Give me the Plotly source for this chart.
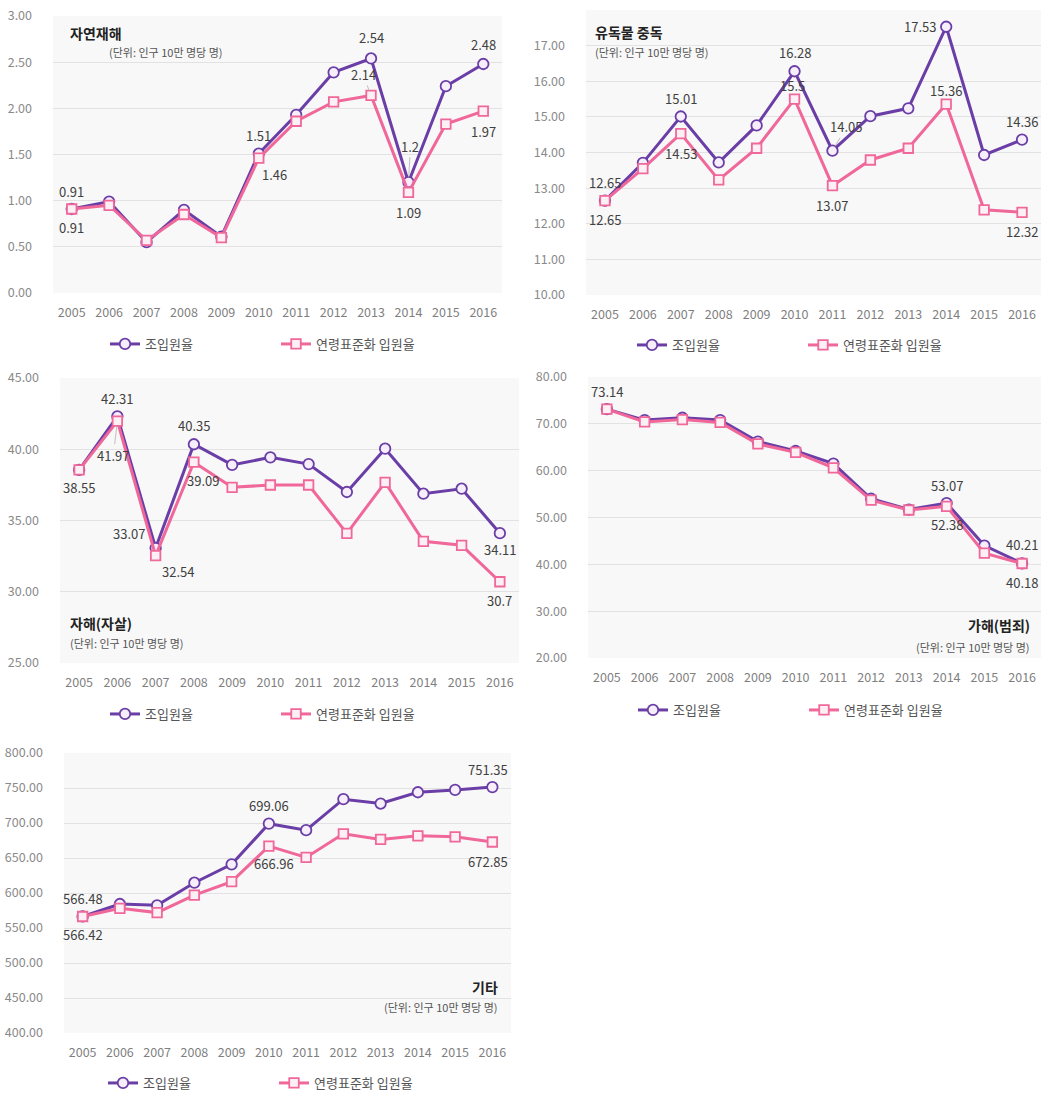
import plotly.graph_objects as go

W, H = 1044, 1095

years = list(range(2005, 2017))

# 자연재해
nat_crude = [0.91, 0.99, 0.55, 0.90, 0.61, 1.51, 1.93, 2.39, 2.54, 1.2, 2.24, 2.48]
nat_std = [0.91, 0.95, 0.57, 0.85, 0.60, 1.46, 1.86, 2.07, 2.14, 1.09, 1.83, 1.97]
# 유독물 중독
tox_crude = [12.65, 13.71, 15.01, 13.72, 14.76, 16.28, 14.05, 15.02, 15.24, 17.53, 13.93, 14.36]
tox_std = [12.65, 13.55, 14.53, 13.23, 14.12, 15.5, 13.07, 13.79, 14.12, 15.36, 12.39, 12.32]
# 자해(자살)
sui_crude = [38.55, 42.31, 33.07, 40.35, 38.9, 39.43, 38.96, 37.0, 40.04, 36.88, 37.23, 34.11]
sui_std = [38.55, 41.97, 32.54, 39.09, 37.33, 37.49, 37.49, 34.10, 37.68, 33.54, 33.26, 30.7]
# 가해(범죄)
cri_crude = [73.14, 70.8, 71.3, 70.8, 66.2, 64.2, 61.5, 54.0, 51.7, 53.07, 44.0, 40.21]
cri_std = [73.14, 70.4, 70.9, 70.3, 65.7, 63.9, 60.6, 53.7, 51.6, 52.38, 42.4, 40.18]
# 기타
etc_crude = [566.48, 584.3, 582.4, 614.7, 640.9, 699.06, 689.8, 734.0, 727.8, 743.9, 747.3, 751.35]
etc_std = [566.42, 578.1, 572.0, 597.1, 616.2, 666.96, 650.8, 684.6, 676.5, 681.7, 680.3, 672.85]

series_names = ["조입원율", "연령표준화 입원율"]
unit_text = "(단위: 인구 10만 명당 명)"

PURPLE = "#6a3ea6"
PINK = "#f0679a"
FONT = "Noto Sans CJK KR, Noto Sans, sans-serif"


def px_x(x):
    return x / W


def px_y(y):
    return 1 - y / H


# label spec: (series 0=crude 1=std, year index, x offset px, y offset px (down +))
panels = [
    dict(title="자연재해", crude=nat_crude, std=nat_std, x0=53, x1=502, yt=16, yb=293,
         rng=[0, 3], dtick=0.5, lx=105, ly=344,
         title_xy=(68, 33, "left"), unit_xy=(107, 52, "left"),
         labels=[(0, 0, 0, -17), (1, 0, 0, 19), (0, 5, 0, -18), (1, 5, 16, 16),
                 (0, 8, 0, -21), (1, 8, -8, -21), (0, 9, 2, -36), (1, 9, 0, 20),
                 (0, 11, 0, -20), (1, 11, 0, 20)]),
    dict(title="유독물 중독", crude=tox_crude, std=tox_std, x0=586, x1=1041, yt=10, yb=295,
         rng=[10, 18], dtick=1, lx=632, ly=345,
         title_xy=(593, 32, "left"), unit_xy=(593, 52, "left"),
         labels=[(0, 0, 0, -18), (1, 0, 0, 19), (0, 2, 0, -18), (1, 2, 0, 20),
                 (0, 5, 0, -19), (1, 5, -2, -14), (0, 6, 14, -24), (1, 6, 0, 20),
                 (0, 9, -26, 0), (1, 9, 0, -14), (0, 11, 0, -18), (1, 11, 0, 19)]),
    dict(title="자해(자살)", crude=sui_crude, std=sui_std, x0=60, x1=519, yt=378, yb=663,
         rng=[25, 45], dtick=5, lx=105, ly=714,
         title_xy=(68, 623, "left"), unit_xy=(68, 643, "left"),
         labels=[(1, 0, 0, 18), (0, 1, 0, -18), (1, 1, -4, 34), (0, 2, -27, -15),
                 (1, 2, 22, 16), (0, 3, 0, -19), (1, 3, 9, 18), (0, 11, 0, 16),
                 (1, 11, 0, 19)]),
    dict(title="가해(범죄)", crude=cri_crude, std=cri_std, x0=588, x1=1041, yt=377, yb=658,
         rng=[20, 80], dtick=10, lx=633, ly=710,
         title_xy=(1032, 625, "right"), unit_xy=(1032, 647, "right"),
         labels=[(0, 0, 0, -18), (0, 9, 0, -18), (1, 9, 0, 18), (0, 11, 0, -19),
                 (1, 11, 0, 19)]),
    dict(title="기타", crude=etc_crude, std=etc_std, x0=64, x1=511, yt=753, yb=1033,
         rng=[400, 800], dtick=50, lx=103, ly=1083,
         title_xy=(500, 987, "right"), unit_xy=(500, 1007, "right"),
         labels=[(0, 0, 0, -18), (1, 0, 0, 18), (0, 5, 0, -18), (1, 5, 5, 17),
                 (0, 11, -4, -18), (1, 11, -4, 19)]),
]

# labels that sit away from their point with a thin leader line
leaders = {(0, 1, 8), (0, 0, 9), (1, 0, 6), (2, 1, 1)}

fig = go.Figure()
annotations = []
layout = dict(
    width=W, height=H, margin=dict(l=0, r=0, t=0, b=0, autoexpand=False),
    paper_bgcolor="white", plot_bgcolor="#f8f8f8",
    font=dict(family=FONT, size=12, color="#808080"),
)

for i, p in enumerate(panels):
    n = "" if i == 0 else str(i + 1)
    xa, ya = "x" + n, "y" + n
    leg = "legend" + n
    for s, (vals, color, sym) in enumerate([(p["crude"], PURPLE, "circle"),
                                           (p["std"], PINK, "square")]):
        fig.add_trace(go.Scatter(
            x=years, y=vals, xaxis=xa, yaxis=ya, legend=leg,
            name=series_names[s], mode="lines+markers",
            line=dict(color=color, width=3),
            marker=dict(symbol=sym, size=10.5 if s == 0 else 9.5,
                        color="#f6eefb" if s == 0 else "#fdf0f4",
                        line=dict(color=color, width=1.8)),
        ))
    layout["xaxis" + n] = dict(
        domain=[px_x(p["x0"]), px_x(p["x1"])], anchor=ya,
        range=[2004.5, 2016.5], dtick=1, tick0=2005, tickformat="d",
        showgrid=False, showline=False, zeroline=False, automargin=False,
        ticks="", ticklabelstandoff=10, tickfont=dict(size=12.5, color="#7f7f7f"),
        fixedrange=True,
    )
    layout["yaxis" + n] = dict(
        domain=[px_y(p["yb"]), px_y(p["yt"])], anchor=xa, range=p["rng"],
        dtick=p["dtick"], tick0=0, tickformat=".2f", showgrid=True,
        gridcolor="#e2e2e2", gridwidth=1, zeroline=False, showline=False,
        automargin=False, ticks="", ticklabelstandoff=20,
        tickfont=dict(size=12.5, color="#8a8a8a"), fixedrange=True,
    )
    layout[leg] = dict(
        orientation="h", x=px_x(p["lx"]), y=px_y(p["ly"]), xanchor="left",
        yanchor="middle", entrywidth=126, entrywidthmode="pixels",
        font=dict(size=13, color="#555555"), bgcolor="rgba(0,0,0,0)",
        itemclick=False, itemdoubleclick=False,
    )
    tx, ty, ta = p["title_xy"]
    annotations.append(dict(
        text="<b>" + p["title"] + "</b>", xref="paper", yref="paper",
        x=px_x(tx), y=px_y(ty), xanchor=ta, yanchor="middle", showarrow=False,
        font=dict(size=14, color="#222222"),
    ))
    ux, uy, ua = p["unit_xy"]
    annotations.append(dict(
        text=unit_text, xref="paper", yref="paper", x=px_x(ux), y=px_y(uy),
        xanchor=ua, yanchor="middle", showarrow=False,
        font=dict(size=11, color="#555555"),
    ))
    for s, idx, dx, dy in p["labels"]:
        vals = p["crude"] if s == 0 else p["std"]
        txt = f"{vals[idx]:g}"
        if (i, s, idx) in leaders:
            annotations.append(dict(
                text=txt, xref=xa, yref=ya, x=years[idx], y=vals[idx],
                showarrow=True, arrowhead=0, arrowwidth=0.8, arrowcolor="#b0b0b0",
                ax=dx, ay=dy, standoff=5,
                font=dict(size=13, color="#404040"),
            ))
        else:
            annotations.append(dict(
                text=txt, xref=xa, yref=ya, x=years[idx], y=vals[idx],
                showarrow=False, xshift=dx, yshift=-dy,
                font=dict(size=13, color="#404040"),
            ))

layout["annotations"] = annotations
fig.update_layout(**layout)
fig.write_html("out.html", config={"displayModeBar": False},
               post_script="document.body.style.margin='0';document.body.style.overflow='hidden';")
